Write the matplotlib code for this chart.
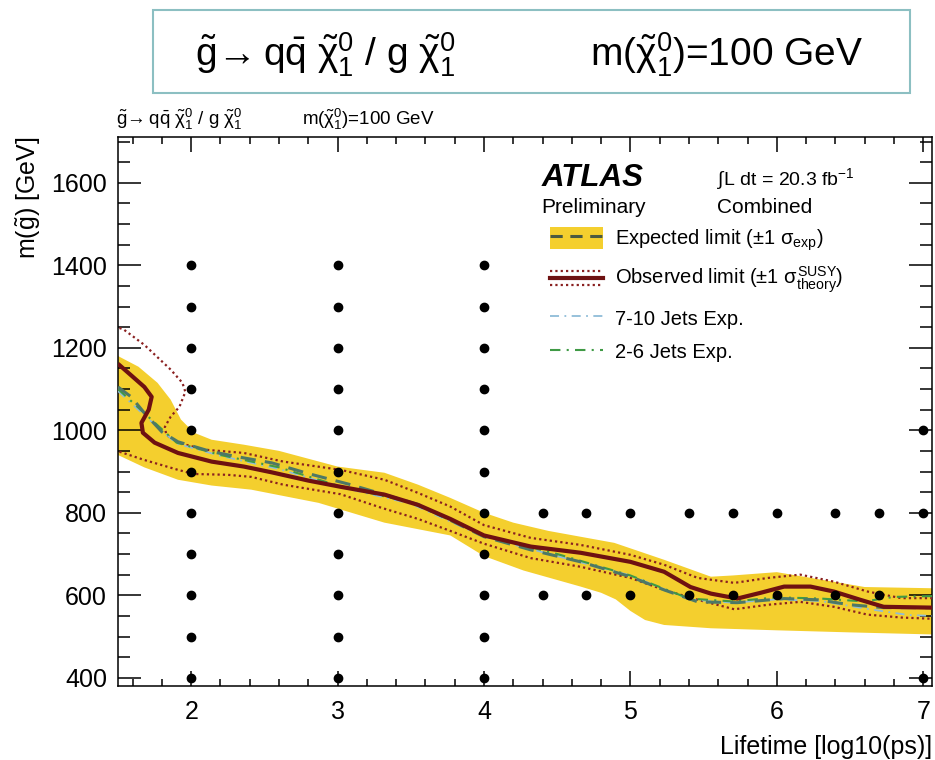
import matplotlib
matplotlib.use("Agg")
import matplotlib.pyplot as plt
from matplotlib.lines import Line2D
from matplotlib.patches import Patch, Rectangle
from matplotlib.legend_handler import HandlerBase
from matplotlib.ticker import MultipleLocator

plt.rcParams['font.family'] = ['Liberation Sans', 'DejaVu Sans']
plt.rcParams['mathtext.fontset'] = 'custom'
plt.rcParams['mathtext.rm'] = 'Liberation Sans'
plt.rcParams['mathtext.it'] = 'Liberation Sans'
plt.rcParams['mathtext.bf'] = 'Liberation Sans:bold'

# ---- signal grid points (log10 lifetime [ps], gluino mass [GeV]) ----
grid_cols_x = [2, 3, 4]
grid_cols_mass = [400, 500, 600, 700, 800, 900, 1000, 1100, 1200, 1300, 1400]
grid_rows_x = [4.4, 4.7, 5.0, 5.4, 5.7, 6.0, 6.4, 6.7]
grid_rows_mass = [600, 800]
grid_edge_x = [7.0, 7.0, 7.0]
grid_edge_mass = [400, 800, 1000]

# ---- expected limit +-1 sigma band ----
band_up_x = [1.50, 1.64, 1.77, 1.86, 1.93, 2.02, 2.14, 2.36, 2.60, 3.00, 3.32, 3.55, 3.77,
             4.00, 4.20, 4.44, 4.89, 5.23, 5.55, 5.70, 6.00, 6.30, 6.60, 7.06]
band_up_m = [1180, 1154, 1115, 1074, 1026, 994, 977, 965, 950, 912, 897, 868, 836,
             800, 776, 756, 727, 686, 645, 648, 656, 638, 620, 617]
band_lo_x = [1.50, 1.68, 1.91, 2.14, 2.41, 2.87, 3.32, 3.77, 4.00, 4.27, 4.66, 4.80, 4.90,
             5.00, 5.10, 5.23, 5.55, 6.00, 6.50, 7.06]
band_lo_m = [940, 910, 880, 866, 856, 824, 776, 745, 695, 660, 621, 606, 590,
             562, 540, 528, 520, 515, 510, 505]

# ---- expected limit ----
exp_x = [1.50, 1.59, 1.68, 1.80, 1.91, 2.14, 2.36, 2.55, 2.80, 3.09, 3.55, 4.00, 4.32,
         4.66, 5.00, 5.23, 5.46, 5.73, 6.05, 6.28, 6.50, 6.73, 7.06]
exp_m = [1105, 1081, 1042, 996, 972, 948, 933, 921, 895, 868, 820, 742, 710,
         681, 645, 613, 584, 582, 592, 589, 577, 570, 570]

# ---- observed limit ----
obs_x = [1.51, 1.60, 1.68, 1.73, 1.71, 1.66, 1.67, 1.75, 1.91, 2.14, 2.36, 2.55, 2.80,
         3.02, 3.32, 3.55, 3.77, 4.00, 4.32, 4.66, 5.00, 5.23, 5.41, 5.55, 5.73, 5.89,
         6.05, 6.23, 6.39, 6.57, 6.73, 7.06]
obs_m = [1158, 1130, 1105, 1081, 1050, 1018, 994, 970, 945, 924, 912, 898, 878,
         863, 844, 819, 785, 745, 718, 703, 681, 657, 620, 604, 592, 606,
         621, 621, 609, 589, 572, 570]

# ---- observed +1 sigma theory ----
obs_up_x = [1.51, 1.54, 1.68, 1.86, 1.94, 1.96, 1.92, 1.86, 1.82, 1.83, 1.91, 2.09, 2.36,
            2.63, 3.02, 3.32, 3.55, 3.77, 4.00, 4.32, 4.66, 5.00, 5.23, 5.46, 5.71,
            5.94, 6.16, 6.39, 6.62, 6.85, 7.06]
obs_up_m = [1248, 1244, 1207, 1147, 1115, 1093, 1057, 1033, 1008, 989, 970, 953, 945,
            924, 904, 880, 848, 815, 770, 739, 722, 698, 674, 642, 630,
            642, 650, 633, 609, 593, 593]

# ---- observed -1 sigma theory ----
obs_lo_x = [1.51, 1.68, 1.91, 2.02, 2.25, 2.41, 2.63, 3.02, 3.30, 3.55, 3.77, 4.00, 4.32,
            4.66, 5.00, 5.23, 5.46, 5.71, 5.94, 6.16, 6.39, 6.62, 6.85, 7.06]
obs_lo_m = [948, 928, 904, 894, 892, 887, 868, 845, 812, 785, 756, 725, 690,
            669, 642, 613, 589, 566, 577, 584, 572, 553, 546, 543]

# ---- per-channel expected limits ----
j710_x = [1.50, 1.70, 1.90, 2.20, 2.60, 3.00, 3.50, 4.00, 4.50, 5.00, 5.40, 5.70, 6.00,
          6.30, 6.60, 6.90, 7.06]
j710_m = [1095, 1030, 968, 938, 906, 864, 822, 742, 695, 648, 590, 582, 590,
          586, 568, 552, 550]
j26_x = [1.50, 1.70, 1.90, 2.20, 2.60, 3.00, 3.50, 4.00, 4.50, 5.00, 5.40, 5.70, 6.00,
         6.30, 6.60, 6.80, 7.06]
j26_m = [1100, 1035, 970, 940, 910, 866, 825, 745, 700, 648, 592, 585, 595,
         592, 585, 596, 598]

YELLOW = '#f4cf2e'
OBS_RED = '#6e1111'
DOT_RED = '#8a2020'
EXP_COL = '#4d7866'
J26_COL = '#3f9a45'
J710_COL = '#8fbcd8'

fig = plt.figure(figsize=(9.35, 7.6), dpi=100)
W, H = 935.0, 760.0
ax = fig.add_axes([118 / W, 1 - 686 / H, (932 - 118) / W, (686 - 137) / H])

ax.fill(band_up_x + band_lo_x[::-1], band_up_m + band_lo_m[::-1],
        color=YELLOW, lw=0, zorder=1)
ax.plot(obs_up_x, obs_up_m, color=DOT_RED, lw=1.6, ls=(0, (1, 1.4)), zorder=3)
ax.plot(obs_lo_x, obs_lo_m, color=DOT_RED, lw=1.6, ls=(0, (1, 1.4)), zorder=3)
ax.plot(j710_x, j710_m, color=J710_COL, lw=1.3, ls=(0, (5, 3, 1, 3)), zorder=3)
ax.plot(j26_x, j26_m, color=J26_COL, lw=1.5, ls=(0, (5, 3, 1, 3)), zorder=3)
ax.plot(exp_x, exp_m, color=EXP_COL, lw=2.2, ls=(0, (5, 3)), zorder=4)
ax.plot(obs_x, obs_m, color=OBS_RED, lw=3.0, zorder=5)

for gx in grid_cols_x:
    ax.plot([gx] * len(grid_cols_mass), grid_cols_mass, 'o', color='black', ms=6, zorder=6)
for gm in grid_rows_mass:
    ax.plot(grid_rows_x, [gm] * len(grid_rows_x), 'o', color='black', ms=6, zorder=6)
ax.plot(grid_edge_x, grid_edge_mass, 'o', color='black', ms=6, zorder=6, clip_on=False)

ax.set_xlim(1.5, 7.06)
ax.set_ylim(380, 1711)
ax.xaxis.set_major_locator(MultipleLocator(1))
ax.xaxis.set_minor_locator(MultipleLocator(0.2))
ax.yaxis.set_major_locator(MultipleLocator(200))
ax.yaxis.set_minor_locator(MultipleLocator(50))
ax.tick_params(axis='both', which='both', direction='in', top=True, right=True, width=1.1)
ax.tick_params(axis='x', which='major', length=10.8, pad=10, labelsize=18)
ax.tick_params(axis='x', which='minor', length=5)
ax.tick_params(axis='y', which='major', length=16.5, pad=8, labelsize=18)
ax.tick_params(axis='y', which='minor', length=8.6)
for sp in ax.spines.values():
    sp.set_linewidth(1.1)

ax.set_xlabel('Lifetime [log10(ps)]', fontsize=18, loc='right', labelpad=8)
fig.text(28 / W, 1 - 137 / H, r'm($\tilde{\mathrm{g}}$) [GeV]', rotation=90,
         ha='center', va='top', fontsize=18)

# ATLAS label block
ax.text(0.520, 0.925, 'ATLAS', transform=ax.transAxes, fontsize=22.5,
        fontweight='bold', fontstyle='italic', va='center', ha='left')
ax.text(0.520, 0.871, 'Preliminary', transform=ax.transAxes, fontsize=15,
        va='center', ha='left')
ax.text(0.736, 0.923, r'$\int$L dt = 20.3 fb$^{-1}$', transform=ax.transAxes,
        fontsize=14, va='center', ha='left')
ax.text(0.736, 0.871, 'Combined', transform=ax.transAxes, fontsize=15,
        va='center', ha='left')


class HandlerObserved(HandlerBase):
    def create_artists(self, legend, orig_handle, xdescent, ydescent,
                       width, height, fontsize, trans):
        x0, x1 = -xdescent, -xdescent + width
        yc = height / 2 - ydescent
        arts = []
        for dy in (-0.33 * height, 0.33 * height):
            ln = Line2D([x0, x1], [yc + dy, yc + dy], color=DOT_RED, lw=1.6,
                        ls=(0, (1, 1.4)))
            ln.set_transform(trans)
            arts.append(ln)
        ln = Line2D([x0, x1], [yc, yc], color=OBS_RED, lw=3.0)
        ln.set_transform(trans)
        arts.append(ln)
        return arts


class ObservedKey:
    pass


exp_handle = (Patch(facecolor=YELLOW, edgecolor='none'),
              Line2D([], [], color='#4b5a40', lw=2.2, ls=(0, (4, 2.5))))
obs_handle = ObservedKey()
j710_handle = Line2D([], [], color=J710_COL, lw=1.3, ls=(0, (5, 3, 1, 3)))
j26_handle = Line2D([], [], color=J26_COL, lw=1.5, ls=(0, (5, 3, 1, 3)))

leg = ax.legend([exp_handle, obs_handle, j710_handle, j26_handle],
                [r'Expected limit ($\pm$1 $\sigma_{\mathrm{exp}}$)',
                 r'Observed limit ($\pm$1 $\sigma^{\mathrm{SUSY}}_{\mathrm{theory}}$)',
                 '7-10 Jets Exp.', '2-6 Jets Exp.'],
                handler_map={ObservedKey: HandlerObserved()},
                loc='upper left', bbox_to_anchor=(0.531, 0.836),
                frameon=False, fontsize=14.5, borderpad=0, borderaxespad=0,
                handlelength=2.6, handleheight=1.3, handletextpad=0.6,
                labelspacing=0.58)

# header above the frame
fig.text(116 / W, 1 - 119 / H,
         r'$\tilde{\mathrm{g}}\!\rightarrow\mathrm{q\bar{q}}\ \tilde{\chi}^{0}_{1}$ / g $\tilde{\chi}^{0}_{1}$',
         fontsize=13.5, va='center', ha='left')
fig.text(302 / W, 1 - 119 / H, r'm($\tilde{\chi}^{0}_{1}$)=100 GeV',
         fontsize=13.5, va='center', ha='left')

# boxed title
fig.patches.append(Rectangle((153 / W, 1 - 93 / H), (910 - 153) / W, 83 / H,
                             transform=fig.transFigure, facecolor='white',
                             edgecolor='#8cbfc2', lw=1.5))
fig.text(195 / W, 1 - 55 / H,
         r'$\tilde{\mathrm{g}}\!\rightarrow\mathrm{q\bar{q}}\ \tilde{\chi}^{0}_{1}$ / g $\tilde{\chi}^{0}_{1}$',
         fontsize=28, va='center', ha='left')
fig.text(590 / W, 1 - 55 / H, r'm($\tilde{\chi}^{0}_{1}$)=100 GeV',
         fontsize=28, va='center', ha='left')

fig.savefig('out.png', dpi=100)
